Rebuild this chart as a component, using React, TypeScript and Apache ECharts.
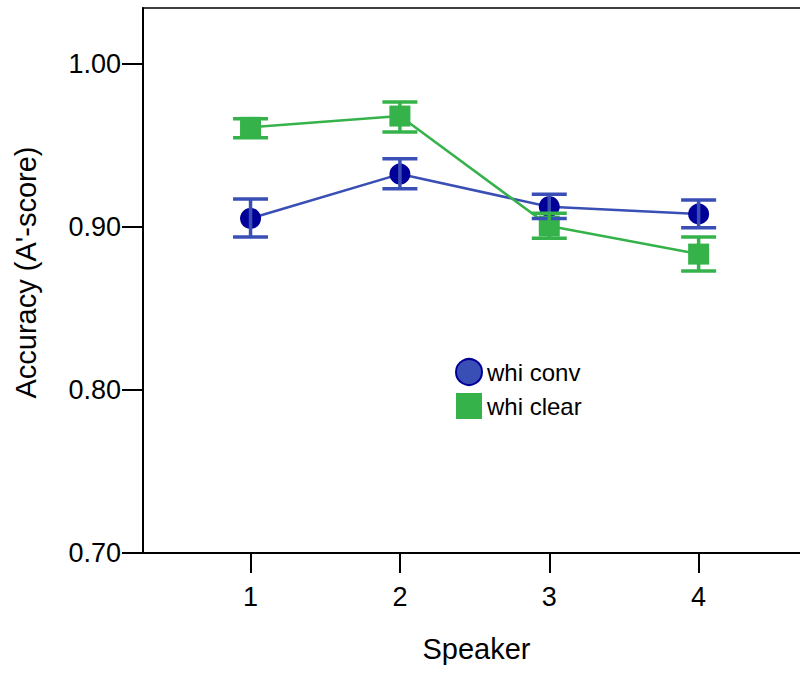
import React, { useEffect, useRef } from "react";
import * as echarts from "echarts";

const speakers = [1, 2, 3, 4];
const tickLabelsY = [0.7, 0.8, 0.9, 1.0];
const convMean = [0.9053, 0.9325, 0.9125, 0.908];
const convLow = [0.8939, 0.9235, 0.9053, 0.8996];
const convHigh = [0.9172, 0.9419, 0.9201, 0.9166];
const clearMean = [0.9612, 0.9681, 0.9006, 0.8834];
const clearLow = [0.9548, 0.9583, 0.8931, 0.873];
const clearHigh = [0.9664, 0.9767, 0.9084, 0.8939];

const BLUE_LINE = "#3a4fb5";
const NAVY = "#000099";
const GREEN = "#35b34a";
const FONT = "Liberation Sans, Arial, Helvetica, sans-serif";

function errRender(color: string) {
  return (params: any, api: any) => {
    const x = api.value(0);
    const lo = api.coord([x, api.value(1)]);
    const hi = api.coord([x, api.value(2)]);
    const hw = 17.5;
    return {
      type: "group",
      children: [
        { type: "line", shape: { x1: lo[0], y1: lo[1], x2: hi[0], y2: hi[1] }, style: { stroke: color, lineWidth: 3.5 } },
        { type: "line", shape: { x1: lo[0] - hw, y1: lo[1], x2: lo[0] + hw, y2: lo[1] }, style: { stroke: color, lineWidth: 3.5 } },
        { type: "line", shape: { x1: hi[0] - hw, y1: hi[1], x2: hi[0] + hw, y2: hi[1] }, style: { stroke: color, lineWidth: 3.5 } },
      ],
    };
  };
}

export default function App() {
  const ref = useRef<HTMLDivElement>(null);
  useEffect(() => {
    if (!ref.current) return;
    const chart = echarts.init(ref.current, null, { renderer: "svg" });
    const convPts = speakers.map((s, i) => [s, convMean[i]]);
    const clearPts = speakers.map((s, i) => [s, clearMean[i]]);
    const convErr = speakers.map((s, i) => [s, convLow[i], convHigh[i]]);
    const clearErr = speakers.map((s, i) => [s, clearLow[i], clearHigh[i]]);
    chart.setOption({
      animation: false,
      backgroundColor: "#ffffff",
      textStyle: { fontFamily: FONT },
      grid: {
        left: 143,
        top: 8,
        height: 545,
        width: 705,
        show: true,
        borderColor: "#000",
        borderWidth: 1.5,
        containLabel: false,
        outerBoundsMode: "none",
      },
      legend: {
        orient: "vertical",
        left: 450,
        top: 353,
        itemWidth: 26,
        itemHeight: 26,
        itemGap: 7,
        textStyle: { fontSize: 24, color: "#000", fontFamily: FONT },
        data: [
          { name: "whi conv", icon: "circle", itemStyle: { color: BLUE_LINE, borderColor: NAVY, borderWidth: 2, opacity: 1 } },
          { name: "whi clear", icon: "rect", itemStyle: { color: GREEN, opacity: 1 } },
        ],
      },
      xAxis: {
        type: "value",
        min: 0.28,
        max: 5.0,
        name: "Speaker",
        nameLocation: "middle",
        nameGap: 81,
        nameTextStyle: { fontSize: 29, color: "#000", fontFamily: FONT, padding: [0, 38, 0, 0] },
        axisLine: { show: true, lineStyle: { color: "#000", width: 2 } },
        axisTick: { show: true, customValues: speakers, length: 20, lineStyle: { color: "#000", width: 2 } },
        axisLabel: {
          customValues: speakers,
          fontSize: 27,
          color: "#000",
          margin: 30,
          fontFamily: FONT,
          formatter: (v: number) => String(v),
        },
        splitLine: { show: false },
      },
      yAxis: {
        type: "value",
        min: 0.7,
        max: 1.0344,
        interval: 0.1,
        name: "Accuracy (A'-score)",
        nameLocation: "middle",
        nameGap: 103,
        nameTextStyle: { fontSize: 29, color: "#000", fontFamily: FONT, padding: [0, 0, 0, 16] },
        axisLine: { show: true, lineStyle: { color: "#000", width: 2 } },
        axisTick: { show: true, customValues: tickLabelsY, length: 21, lineStyle: { color: "#000", width: 2 } },
        axisLabel: {
          customValues: tickLabelsY,
          fontSize: 27,
          color: "#000",
          margin: 22,
          fontFamily: FONT,
          formatter: (v: number) => v.toFixed(2),
        },
        splitLine: { show: false },
      },
      series: [
        {
          name: "conv-line",
          type: "line",
          data: convPts,
          symbol: "none",
          lineStyle: { color: BLUE_LINE, width: 2.5 },
          z: 2,
        },
        {
          name: "clear-line",
          type: "line",
          data: clearPts,
          symbol: "none",
          lineStyle: { color: GREEN, width: 2.5 },
          z: 2,
        },
        {
          name: "whi conv",
          type: "scatter",
          data: convPts,
          symbol: "circle",
          symbolSize: 21,
          itemStyle: { color: NAVY, opacity: 1 },
          z: 3,
        },
        {
          name: "whi clear",
          type: "scatter",
          data: clearPts,
          symbol: "rect",
          symbolSize: 21,
          itemStyle: { color: GREEN, opacity: 1 },
          z: 4,
        },
        {
          name: "conv-err",
          type: "custom",
          data: convErr,
          encode: { x: 0, y: [1, 2] },
          renderItem: errRender(BLUE_LINE),
          z: 5,
        },
        {
          name: "clear-err",
          type: "custom",
          data: clearErr,
          encode: { x: 0, y: [1, 2] },
          renderItem: errRender(GREEN),
          z: 5,
        },
      ],
    });
    return () => chart.dispose();
  }, []);
  return <div ref={ref} style={{ width: 800, height: 675, position: "absolute", left: 0, top: 0 }} />;
}
